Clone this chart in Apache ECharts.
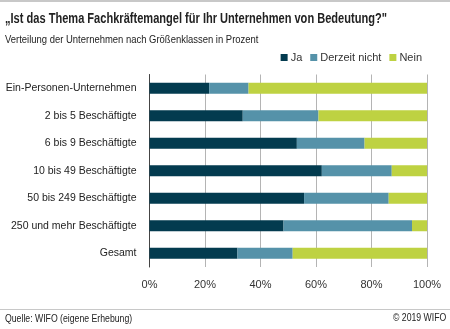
<!DOCTYPE html>
<html>
<head>
<meta charset="utf-8">
<script src="https://cdn.jsdelivr.net/npm/echarts@6/dist/echarts.min.js"></script>
<style>
  html, body { margin: 0; padding: 0; background: #fff; }
  #chart { width: 450px; height: 329px; }
</style>
</head>
<body>
<div id="chart"></div>
<script>
// Fachkräftemangel nach Größenklassen (Anteile in %)
var categories = ['Ein-Personen-Unternehmen', '2 bis 5 Beschäftigte', '6 bis 9 Beschäftigte',
  '10 bis 49 Beschäftigte', '50 bis 249 Beschäftigte', '250 und mehr Beschäftigte', 'Gesamt'];
var ja = [21.5, 33.6, 53.1, 62.1, 55.7, 48.3, 31.7];
var derzeitNicht = [14.2, 27.3, 24.4, 25.2, 30.5, 46.3, 19.9];
var nein = [64.3, 39.1, 22.5, 12.7, 13.8, 5.4, 48.4];

var FONT = '"Liberation Sans", Arial, sans-serif';
var colors = ['#033b4f', '#5592a9', '#bed242'];

var chart = echarts.init(document.getElementById('chart'));

function bar(name, data) {
  return { name: name, type: 'bar', stack: 'all', barWidth: 11, data: data };
}

// narrowed text block (header / footer)
function txt(str, x, y, size, weight, sx) {
  return {
    type: 'text', x: x, y: y, scaleX: sx, originX: 0, originY: 0,
    style: { text: str, fontFamily: FONT, fontSize: size, fontWeight: weight, fill: '#222',
      verticalAlign: 'middle' }
  };
}

chart.setOption({
  color: colors,
  animation: false,
  textStyle: { fontFamily: FONT },
  graphic: [
    { type: 'line', shape: { x1: 0, y1: 1, x2: 450, y2: 1 }, style: { stroke: '#c8c8c8', lineWidth: 2 } },
    { type: 'line', shape: { x1: 0, y1: 309.5, x2: 450, y2: 309.5 }, style: { stroke: '#c8c8c8', lineWidth: 1 } },
    txt('„Ist das Thema Fachkräftemangel für Ihr Unternehmen von Bedeutung?"', 5, 19, 14, 'bold', 0.79),
    txt('Verteilung der Unternehmen nach Größenklassen in Prozent', 5, 40, 11, 'normal', 0.86),
    txt('Quelle: WIFO (eigene Erhebung)', 5, 319, 10, 'normal', 0.87),
    txt('© 2019 WIFO', 393, 318, 10, 'normal', 0.87)
  ],
  legend: {
    right: 23, top: 47, itemWidth: 7, itemHeight: 7, itemGap: 8,
    icon: 'rect',
    textStyle: { fontFamily: FONT, fontSize: 11, color: '#333', padding: [0, 0, 0, -2] },
    data: ['Ja', 'Derzeit nicht', 'Nein']
  },
  grid: { left: 149.5, right: 23, top: 74.5, bottom: 62, containLabel: false, outerBoundsMode: 'none' },
  xAxis: {
    type: 'value', min: 0, max: 100, interval: 20,
    axisLine: { show: false }, axisTick: { show: false },
    splitLine: { lineStyle: { color: '#b4b4b4', width: 1 } },
    axisLabel: { formatter: '{value}%', margin: 12, fontSize: 11, color: '#333', fontFamily: FONT }
  },
  yAxis: {
    type: 'category', data: categories, inverse: true,
    axisLine: { lineStyle: { color: '#444', width: 1 } },
    axisTick: { show: false },
    axisLabel: { margin: 13, fontSize: 10.5, color: '#222', fontFamily: FONT }
  },
  series: [
    bar('Ja', ja),
    bar('Derzeit nicht', derzeitNicht),
    bar('Nein', nein)
  ]
});
</script>
</body>
</html>
